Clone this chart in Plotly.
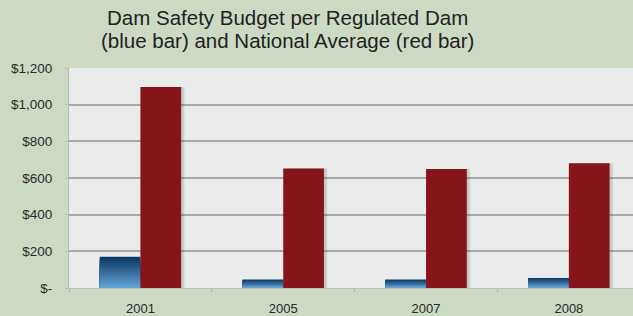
import plotly.graph_objects as go

years = ["2001", "2005", "2007", "2008"]
state_budget = [171, 46, 46, 55]        # blue bars
national_avg = [1096, 652, 649, 680]    # red bars
y_tickvals = [0, 200, 400, 600, 800, 1000, 1200]
y_ticktext = ["$-", "$200", "$400", "$600", "$800", "$1,000", "$1,200"]
title_lines = ["Dam Safety Budget per Regulated Dam",
               "(blue bar) and National Average (red bar)"]

BW = 0.285
L, T, B, W, H = 69, 68, 28, 633, 316
PH = H - T - B
PW = W - L

fig = go.Figure()

# soft drop shadow for red bars
for d, a in [(0.028, 0.06), (0.021, 0.08), (0.014, 0.10)]:
    fig.add_trace(go.Bar(x=years, y=national_avg, width=BW, offset=d,
                         marker=dict(color=f"rgba(60,60,60,{a})", line=dict(width=0)),
                         hoverinfo="skip", showlegend=False))

# blue bars with vertical gradient (dark top -> light bottom) via layered fills
N = 14
top = (12, 56, 100)
bot = (98, 160, 212)
for k in range(N):
    frac = 1 - k / N
    t = k / (N - 1)
    c = tuple(int(top[j] + (bot[j] - top[j]) * t) for j in range(3))
    fig.add_trace(go.Bar(x=years, y=[v * frac for v in state_budget], width=BW, offset=-BW,
                         marker=dict(color=f"rgb{c}", line=dict(width=0)),
                         hoverinfo="skip", showlegend=False))

fig.add_trace(go.Bar(x=years, y=national_avg, width=BW, offset=0,
                     marker=dict(color="#86151a", line=dict(width=0)),
                     name="National Average", showlegend=False))

fig.update_layout(
    width=W, height=H,
    barmode="overlay",
    paper_bgcolor="#cddac3",
    plot_bgcolor="#eaeceb",
    margin=dict(l=L, r=0, t=T, b=B),
    font=dict(family="Liberation Sans, Arial, sans-serif", color="#2a2a2a"),
    xaxis=dict(range=[-0.5, 3.449], showgrid=False, ticks="outside", tickson="boundaries",
               ticklen=3, tickcolor="#b0b0b0", showline=True, linecolor="#c0c0c0",
               ticklabelstandoff=8, automargin=False,
               tickfont=dict(size=13, color="#2a2a2a"), fixedrange=True),
    yaxis=dict(range=[0, 1200], tickvals=y_tickvals, ticktext=y_ticktext,
               showgrid=True, gridcolor="#a9a9a9", gridwidth=1.5,
               showline=True, linecolor="#b8b8b8", linewidth=1, ticks="outside",
               ticklen=3, tickcolor="#b8b8b8", ticklabelstandoff=10, automargin=False,
               tickfont=dict(size=13.5, color="#2a2a2a"), zeroline=False, fixedrange=True),
)
for line, ypx in zip(title_lines, [18, 40]):
    fig.add_annotation(text=line, xref="paper", yref="paper",
                       x=(287 - L) / PW, y=1 + (T - ypx) / PH,
                       xanchor="center", yanchor="middle",
                       showarrow=False, font=dict(size=20.5, color="#222"))

fig.write_html("out.html", config={"displayModeBar": False},
               post_script="document.body.style.margin='0';")
